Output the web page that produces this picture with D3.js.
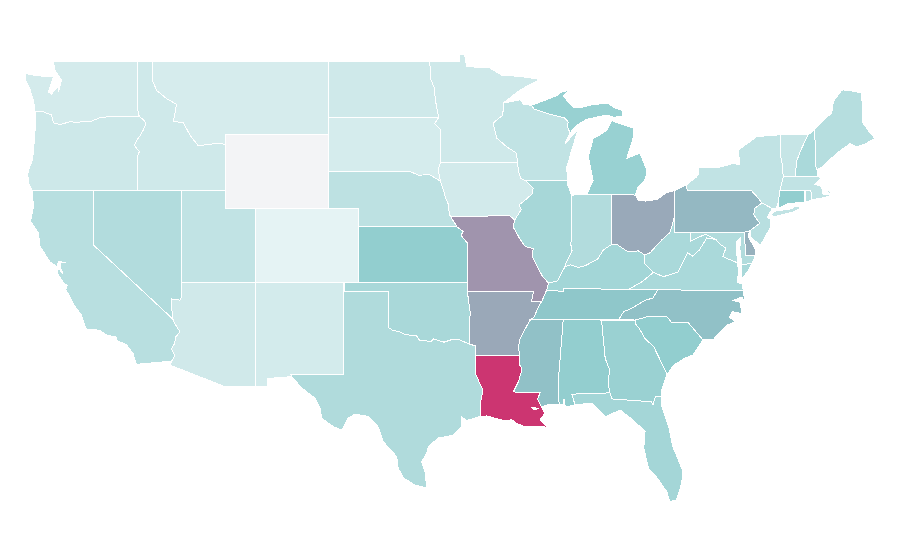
<!DOCTYPE html>
<html>
<head>
<meta charset="utf-8">
<style>
  html, body { margin: 0; background: #fff; }
  svg { display: block; }
</style>
<script src="https://cdn.jsdelivr.net/npm/d3@7"></script>
</head>
<body>
<div id="chart"></div>
<script>
// Shared borders, lon/lat, so neighbouring states meet exactly
const columbia = [[-118.98,46.0],[-119.3,45.93],[-119.6,45.92],[-120.2,45.73],[-120.65,45.73],[-121.2,45.65],[-121.55,45.72],[-122.0,45.62],[-122.3,45.55],[-122.75,45.65],[-122.8,45.87],[-122.9,46.1],[-123.2,46.15],[-123.45,46.27],[-124.0,46.27]];
const snake = [[-117.03,43.83],[-116.9,44.1],[-117.2,44.35],[-117.22,44.47],[-117.05,44.75],[-116.85,44.95],[-116.65,45.25],[-116.47,45.6],[-116.55,45.75],[-116.92,46.0]];
const bitterroot = [[-116.05,49],[-116.05,48.0],[-115.73,47.4],[-115.05,46.95],[-114.38,46.65],[-114.6,45.7],[-113.94,45.68],[-113.45,44.95],[-112.9,44.4],[-111.5,44.55],[-111.05,44.47]];
const coloradoRiver = [[-114.63,35],[-114.57,34.85],[-114.14,34.3],[-114.43,34.05],[-114.53,33.65],[-114.72,33.4],[-114.5,33.0],[-114.72,32.72]];
const nvSouth = [[-114.04,36.2],[-114.15,36.03],[-114.74,36.1],[-114.7,35.5],[-114.63,35]];
const redRiver = [[-100,34.56],[-99.7,34.4],[-99.2,34.3],[-98.95,34.2],[-98.4,34.1],[-98.1,34.13],[-97.9,33.87],[-97.45,33.83],[-97.15,33.75],[-96.9,33.93],[-96.6,33.85],[-96.2,33.75],[-95.75,33.87],[-95.2,33.9],[-94.48,33.64]];
const sabine = [[-94.04,31.99],[-93.82,31.6],[-93.55,31.15],[-93.7,30.6],[-93.75,30.0],[-93.75,29.72]];
const moUpper = [[-98.5,43],[-97.9,42.8],[-97.2,42.85],[-96.7,42.6],[-96.45,42.49]];
const moMiddle = [[-96.45,42.49],[-96.25,42],[-96.1,41.6],[-95.9,41.2],[-95.85,40.7],[-95.77,40.58]];
const moLower = [[-95.31,40],[-94.9,39.75],[-95.05,39.55],[-94.6,39.11]];
const redNorth = [[-97.23,49],[-97.1,48.5],[-97.1,48.0],[-96.85,47.5],[-96.8,46.9],[-96.56,45.94]];
const sdMn = [[-96.56,45.94],[-96.85,45.6],[-96.45,45.3],[-96.45,43.5]];
const stCroix = [[-92.18,46.72],[-92.2,46.07],[-92.87,45.63],[-92.62,44.82],[-91.95,44.35],[-91.27,44.0],[-91.22,43.5]];
const missUpper = [[-91.22,43.5],[-91.1,42.9],[-91.0,42.65],[-90.64,42.5]];
const missIa = [[-90.64,42.5],[-90.15,42.1],[-90.2,41.8],[-90.7,41.45],[-91.1,41.2],[-90.95,40.95],[-91.4,40.38]];
const missMo = [[-91.4,40.38],[-91.5,40.0],[-91.4,39.85],[-91.05,39.35],[-90.7,38.95],[-90.15,38.82],[-90.2,38.4],[-89.9,37.9],[-89.5,37.3],[-89.1,36.96]];
const missKy = [[-89.1,36.96],[-89.23,36.58]];
const missTn = [[-89.23,36.58],[-89.57,35.95]];
const bootheel = [[-89.57,35.95],[-90.25,35.95],[-90.15,36.4],[-90.15,36.5]];
const missAr = [[-89.57,35.95],[-89.7,35.8],[-90.1,35.1],[-90.3,35.0]];
const missMs = [[-90.3,35.0],[-90.6,34.6],[-91.05,33.9],[-91.15,33.5],[-91.05,33.0]];
const missLa = [[-91.05,33.0],[-91.05,32.5],[-90.9,32.3],[-91.15,31.6],[-91.5,31.05]];
const pearl = [[-89.68,31.0],[-89.85,30.65],[-89.6,30.25]];
const alMs = [[-88.1,35],[-88.45,31.5],[-88.38,30.35]];
const ohioIl = [[-89.1,36.96],[-88.5,37.07],[-87.98,37.85]];
const ohioIn = [[-87.98,37.85],[-87.6,37.95],[-87.1,37.8],[-86.6,37.9],[-86.25,38.05],[-85.75,38.27],[-85.38,38.75],[-84.82,39.05]];
const ohioKy = [[-84.82,39.05],[-84.45,39.05],[-83.7,38.65],[-83.0,38.7],[-82.55,38.48]];
const ohioWv = [[-82.55,38.48],[-82.2,38.6],[-81.75,39.0],[-81.4,39.3],[-80.85,39.7],[-80.66,40.2],[-80.52,40.64]];
const wabash = [[-87.98,37.85],[-87.95,38.0],[-87.5,38.7],[-87.6,39.1],[-87.53,39.35]];
const bigSandy = [[-82.55,38.48],[-82.55,38.0],[-81.97,37.54]];
const kyVa = [[-81.97,37.54],[-82.7,37.05],[-83.68,36.6]];
const vaWv = [[-81.97,37.54],[-81.3,37.3],[-80.3,37.55],[-79.65,38.6],[-79.3,38.42],[-78.85,38.75],[-78.35,39.4],[-77.72,39.32]];
const potomac = [[-77.72,39.32],[-77.5,39.1],[-77.05,38.85],[-77.25,38.4],[-77.0,38.3],[-76.25,38.05]];
const mdWv = [[-79.48,39.72],[-79.48,39.2],[-78.9,39.45],[-78.4,39.6],[-77.72,39.32]];
const tnNc = [[-81.68,36.59],[-82.0,36.15],[-82.6,36.0],[-83.1,35.75],[-83.5,35.57],[-84.0,35.4],[-84.32,34.99]];
const chattahoochee = [[-85.25,32.87],[-84.95,32.25],[-85.05,31.55],[-84.93,31.0]];
const savannah = [[-83.2,34.95],[-83.2,34.75],[-82.9,34.45],[-82.55,33.95],[-81.95,33.5],[-81.4,32.6],[-81.12,32.12],[-81.07,31.97]];
const scNc = [[-83.2,34.95],[-82.4,35.13],[-81.5,35.13],[-81.05,35.13],[-80.73,34.8],[-79.6,34.8],[-78.6,33.87]];
const gaFl = [[-84.93,31.0],[-84.8,30.67],[-82.1,30.52],[-82.0,30.35],[-81.85,30.78],[-81.4,30.8]];
const delaware = [[-75.35,42.0],[-75.05,41.75],[-74.6,41.3],[-75.1,41.0],[-75.15,40.65],[-74.75,40.2],[-75.4,39.8]];
const vtNh = [[-71.45,45.0],[-71.9,44.27],[-72.23,43.6],[-72.35,42.72]];
const nyVt = [[-73.35,45.0],[-73.35,43.9],[-73.25,43.6],[-73.15,42.72]];
const meNh = [[-71.05,45.26],[-70.95,44.3],[-70.98,43.4],[-70.85,43.1]];
const upperWi = [[-90.25,46.6],[-90.1,46.4],[-89.1,46.13],[-87.98,45.9],[-87.77,45.7],[-87.8,45.4],[-87.64,45.1]];
const rev = a => a.slice().reverse();

const stateNames = ["WA","OR","CA","NV","ID","MT","WY","UT","AZ","CO","NM","TX","OK","KS","NE","SD","ND","MN","IA","MO","AR","LA","MS","AL","GA","FL","SC","NC","TN","KY","IL","IN","OH","MI","WI","PA","NY","CT","RI","MA","VT","NH","ME","NJ","DE","MD","VA","WV"];

// 0 is the palest state, 100 the full teal, 200 Louisiana
const stateValues = [31,38,58,64,36,29,0,50,35,14,32,66,73,96,54,30,36,36,33,137,124,200,107,95,88,78,96,107,103,79,75,64,123,90,50,113,50,96,58,50,45,72,60,58,118,64,72,72];

const stateRings = {
  WA: [[[-122.76,49],[-117.03,49],[-117.04,46.42],[-116.92,46.0],...columbia,[-124.07,46.65],[-124.1,46.9],[-124.18,47.0],[-124.35,47.5],[-124.62,47.9],[-124.68,48.33],[-124.2,48.25],[-123.5,48.18],[-123.1,48.18],[-122.75,48.15],[-123.1,47.33],[-122.9,47.2],[-122.42,47.6],[-122.4,47.3],[-122.2,47.97],[-122.64,48.5]]],
  OR: [[...rev(columbia),[-116.92,46.0],...rev(snake),[-117.03,42],[-124.2,42],[-124.4,42.3],[-124.5,42.84],[-124.4,43.2],[-124.22,43.5],[-124.12,44.0],[-124.05,44.7],[-123.97,45.5],[-123.95,45.9],[-124.0,46.27]]],
  CA: [[[-124.2,42],[-120,42],[-120,39],...coloradoRiver,[-117.1,32.55],[-117.25,32.85],[-117.3,33.1],[-117.77,33.6],[-118.45,33.85],[-118.5,34.03],[-119.2,34.15],[-119.6,34.4],[-120.47,34.45],[-120.6,34.6],[-120.83,35.2],[-121.3,35.7],[-121.9,36.6],[-121.8,36.85],[-122.05,36.95],[-122.5,37.5],[-122.4,37.75],[-122.1,37.45],[-122.3,37.85],[-122.3,38.05],[-121.9,38.05],[-122.4,38.15],[-122.5,37.85],[-122.98,38.1],[-123.66,38.95],[-123.78,39.7],[-124.3,40.3],[-124.1,41.1]]],
  NV: [[[-120,42],[-114.04,42],...nvSouth,[-120,39]]],
  ID: [[[-117.03,49],...bitterroot,[-111.05,42],[-117.03,42],...snake,[-117.04,46.42]]],
  MT: [[...bitterroot,[-111.05,45],[-104.05,45],[-104.05,49]]],
  WY: [[[-111.05,45],[-104.05,45],[-104.05,41],[-111.05,41]]],
  UT: [[[-114.04,42],[-111.05,42],[-111.05,41],[-109.05,41],[-109.05,37],[-114.04,37]]],
  AZ: [[[-114.04,37],[-109.05,37],[-109.05,31.33],[-111.07,31.33],[-114.81,32.5],...rev(coloradoRiver),...rev(nvSouth)]],
  CO: [[[-109.05,41],[-102.05,41],[-102.05,37],[-109.05,37]]],
  NM: [[[-109.05,37],[-103,37],[-103.04,32],[-106.62,32],[-106.55,31.88],[-108.21,31.78],[-108.21,31.33],[-109.05,31.33]]],
  TX: [[[-103,36.5],[-100,36.5],...redRiver,[-94.04,33.55],...sabine,[-94.66,29.5],[-95,29.7],[-95,29.17],[-95.6,28.7],[-96.6,28.55],[-97.27,28.08],[-97.38,27.74],[-97.72,27.27],[-97.5,26.73],[-97.38,25.85],[-98.18,26],[-98.97,26.39],[-99.32,26.92],[-99.42,27.54],[-100.33,28.35],[-100.69,29.17],[-101.36,29.72],[-102.25,29.85],[-102.72,29.62],[-103.16,28.98],[-103.73,29.17],[-104.52,29.62],[-104.63,30.15],[-104.97,30.72],[-105.87,31.26],[-106.55,31.88],[-106.62,32],[-103.04,32]]],
  OK: [[[-103,37],[-94.62,37],[-94.62,36.5],[-94.43,35.4],[-94.48,33.64],...rev(redRiver),[-100,36.5],[-103,36.5]]],
  KS: [[[-102.05,40],...moLower,[-94.62,37],[-102.05,37]]],
  NE: [[[-104.05,43],...moUpper,...moMiddle,[-95.31,40],[-102.05,40],[-102.05,41],[-104.05,41]]],
  SD: [[[-104.05,45.94],...sdMn,[-96.6,43.1],...rev(moUpper),[-104.05,43]]],
  ND: [[[-104.05,49],...redNorth,[-104.05,45.94]]],
  MN: [[...redNorth,...sdMn,...rev(stCroix),[-91.03,47.43],[-89.7,48.0],[-90.9,48.15],[-92.3,48.24],[-93.1,48.62],[-94.66,48.7],[-94.8,49.33],[-95.15,49.33],[-95.15,49]]],
  IA: [[[-96.45,43.5],...missUpper,...missIa,[-91.73,40.6],...rev(moMiddle),[-96.6,43.1]]],
  MO: [[[-95.77,40.58],[-91.73,40.6],...missMo,...missKy,...missTn,...bootheel,[-94.62,36.5],[-94.62,37],...rev(moLower),[-95.31,40]]],
  AR: [[[-94.62,36.5],...rev(bootheel),...missAr,...missMs,[-94.04,33.02],[-94.04,33.55],[-94.48,33.64],[-94.43,35.4]]],
  LA: [[[-94.04,33.02],...missLa,...pearl,[-89.35,29.9],[-89.68,29.53],[-89.13,29.1],[-89.6,29.2],[-90.1,29.15],[-90.7,29.17],[-91.3,29.35],[-91.6,29.55],[-91.8,29.5],[-92.3,29.53],[-93.3,29.75],...rev(sabine)]],
  MS: [[...alMs,[-89,30.38],...rev(pearl),[-91.5,31.05],...rev(missLa),...rev(missMs)]],
  AL: [[[-88.1,35],[-85.5,34.95],...chattahoochee,[-87.52,30.93],[-87.3,30.35],[-87.95,30.23],[-88.05,30.65],[-88.1,30.35],...rev(alMs)]],
  GA: [[[-85.5,34.95],...savannah,[-81.4,31.16],...rev(gaFl),...rev(chattahoochee)]],
  FL: [[[-87.52,30.93],...gaFl,[-81.4,30.25],[-80.9,29.05],[-80.65,28.08],[-80.3,27.4],[-79.97,26.73],[-80.05,26.1],[-80.4,25.2],[-80.85,25.1],[-81.07,25.65],[-81.86,26.55],[-82.3,26.9],[-82.63,28.0],[-82.54,28.9],[-83.35,29.53],[-84.24,30.07],[-85.25,29.7],[-86.17,30.45],[-87.3,30.35]]],
  SC: [[...scNc,[-79.3,33.05],[-79.8,32.9],[-80.6,32.5],...rev(savannah)]],
  NC: [[[-84.32,34.99],...scNc,[-77.9,33.9],[-77,34.66],[-76.4,34.87],[-76.8,35.1],[-76.6,35.4],[-75.95,35.3],[-76.1,35.95],[-76.6,36.0],[-75.95,36.2],[-75.75,35.86],[-75.87,36.55],...tnNc]],
  TN: [[[-90.3,35.0],...rev(missAr),...rev(missTn),[-88.07,36.5],[-88.07,36.68],[-83.68,36.6],...tnNc]],
  KY: [[...missKy.slice(0,1),...ohioIl,...ohioIn,...ohioKy,...bigSandy,...kyVa,[-88.07,36.68],[-88.07,36.5],[-89.23,36.58]]],
  IL: [[[-90.64,42.5],[-87.8,42.5],[-87.8,42.3],[-87.53,41.7],...rev(wabash),...rev(ohioIl),...rev(missMo),...rev(missIa)]],
  IN: [[[-87.53,41.7],[-87.2,41.78],[-86.5,41.78],[-84.81,41.76],...rev(ohioIn),...wabash]],
  OH: [[[-84.81,41.76],[-83.2,41.73],[-83.0,41.45],[-82.5,41.4],[-81.7,41.5],[-81.1,41.85],[-80.52,41.98],...rev(ohioWv),...rev(ohioKy)]],
  MI: [[[-86.5,41.78],[-84.81,41.76],[-83.2,41.73],[-83,42.18],[-82.5,42.6],[-82.43,43.1],[-82.88,44.0],[-83.78,43.72],[-83.35,44.82],[-83.35,45.37],[-84.8,45.76],[-85.15,45.25],[-85.6,44.99],[-86.07,44.8],[-86.4,43.8],[-86.07,42.5]],
       [...upperWi.slice(0,1),[-89.4,46.85],[-88.44,47.16],[-88.3,47.3],[-87.75,47.4],[-88.1,47.12],[-87.87,46.88],[-87.4,46.5],[-86.96,46.45],[-86.28,46.61],[-85.06,46.72],[-84.6,46.45],[-84.13,46.34],[-84.03,46.0],[-84.7,45.95],[-85.15,46.07],[-86.5,45.84],[-87.2,45.5],...rev(upperWi).slice(0,-1)],
       [[-89.1,47.9],[-88.6,48.05],[-88.8,47.98]]],
  WI: [[...stCroix.slice(0,1),[-91,46.9],[-90.8,46.65],...upperWi,[-87.97,44.54],[-87.1,45.25],[-87.53,44.17],[-87.77,43.47],[-87.87,43.27],[-87.8,42.5],[-90.64,42.5],...rev(missUpper),...rev(stCroix)]],
  PA: [[[-80.52,41.98],[-79.76,42.27],[-79.67,42.0],...delaware,[-75.8,39.72],[-80.52,39.72],[-80.52,40.64]]],
  NY: [[[-79.76,42.27],[-79.05,42.7],[-78.9,42.9],[-78.9,43.25],[-77.45,43.25],[-76.5,43.45],[-76.1,43.36],[-76.2,44.17],[-74.95,44.9],...nyVt,[-73.37,42.0],[-73.5,41.3],[-73.65,41.0],[-73.9,41.0],[-74.6,41.3],[-75.05,41.75],[-75.35,42.0],[-79.67,42.0]],
       [[-74.03,40.6],[-73.75,40.85],[-72.6,40.98],[-72.3,41.15],[-71.9,41.03],[-72.5,40.8],[-73.6,40.58]]],
  CT: [[[-73.37,42.0],[-71.7,42.0],[-71.7,41.35],[-72.9,41.25],[-73.5,41.0],[-73.5,41.3]]],
  RI: [[[-71.65,42.0],[-71.3,42.0],[-71.2,41.67],[-71.2,41.47],[-71.5,41.37],[-71.65,41.35]]],
  MA: [[[-73.15,42.72],[-72.35,42.72],[-71.3,42.72],[-70.8,42.75],[-70.6,42.65],[-71,42.3],[-70.55,42.2],[-70.45,41.78],[-70,41.78],[-70.25,42.07],[-69.97,41.9],[-69.98,41.67],[-70.65,41.55],[-71.2,41.47],[-71.2,41.67],[-71.3,42.0],[-73.37,42.0]]],
  VT: [[...nyVt,...rev(vtNh)]],
  NH: [[...vtNh,[-71.3,42.72],[-70.8,42.75],...rev(meNh)]],
  ME: [[[-71.05,45.26],[-70.4,45.8],[-69.85,46.18],[-69.75,46.8],[-69.2,47.38],[-69.07,47.43],[-68.3,47.36],[-67.82,47.25],[-67.73,45.64],[-67.25,45.1],[-66.92,44.8],[-67.6,44.5],[-68.16,44.35],[-68.6,44.53],[-69.5,44.0],[-70.5,43.27],...rev(meNh)]],
  NJ: [[[-74.6,41.3],[-73.9,41.0],[-74.25,40.5],[-74,40.45],[-74,40],[-74.7,39.0],[-75.4,39.47],[-75.4,39.8],[-74.75,40.2],[-75.15,40.65],[-75.1,41.0]]],
  DE: [[[-75.8,39.72],[-75.4,39.8],[-75.55,39.5],[-75.05,38.8],[-75.05,38.45],[-75.7,38.46]]],
  MD: [[...mdWv.slice(0,1),[-75.8,39.72],[-75.7,38.46],[-75.05,38.45],[-75.25,38.03],[-75.95,37.95],[-76.0,38.2],[-76.1,38.8],[-76.05,39.4],[-76.35,39.2],[-76.3,38.5],...rev(potomac),...rev(mdWv)]],
  VA: [[[-75.87,36.55],[-75.95,36.9],[-76.25,37.0],[-76.2,37.6],...rev(potomac),...rev(vaWv),...kyVa,[-81.68,36.59]],
       [[-75.25,38.03],[-75.95,37.95],[-76.0,37.15],[-75.55,37.6]]],
  WV: [[[-80.52,40.64],[-80.52,39.72],...mdWv,...rev(vaWv),...rev(bigSandy),...ohioWv]]
};

// Lake Pontchartrain, white on top of Louisiana
const lake = [[-90.35,30.2],[-90.05,30.25],[-89.75,30.15],[-90.05,30.05]];

const width = 900;
const height = 560;

// The reference is a stretched plate carree, so lon and lat get their own linear scale
const x = d3.scaleLinear().domain([-109.05, -102.05]).range([255, 358]);
const y = d3.scaleLinear().domain([49, 33]).range([61, 356]);

const color = d3.scaleLinear()
  .domain([0, 14, 100, 137, 200])
  .range(["#f3f4f6", "#e5f3f4", "#8ecccd", "#a094ad", "#cc3571"]);

const projection = d3.geoTransform({
  point(lon, lat) { this.stream.point(x(lon), y(lat)); }
});
const path = d3.geoPath(projection);

const states = stateNames.map((name, i) => ({
  type: "Feature",
  properties: { name, value: stateValues[i] },
  geometry: { type: "MultiPolygon", coordinates: stateRings[name].map(r => [r.concat([r[0]])]) }
}));

// Create SVG element
const svg = d3.select("#chart")
  .append("svg")
  .attr("width", width)
  .attr("height", height);

svg.append("g")
  .selectAll("path")
  .data(states)
  .enter().append("path")
  .attr("d", path)
  .attr("fill", d => color(d.properties.value))
  .attr("stroke", "#fff")
  .attr("stroke-width", 1)
  .attr("shape-rendering", "crispEdges");

svg.append("path")
  .attr("d", path({ type: "Polygon", coordinates: [lake.concat([lake[0]])] }))
  .attr("fill", "#fff")
  .attr("shape-rendering", "crispEdges");
</script>
</body>
</html>
